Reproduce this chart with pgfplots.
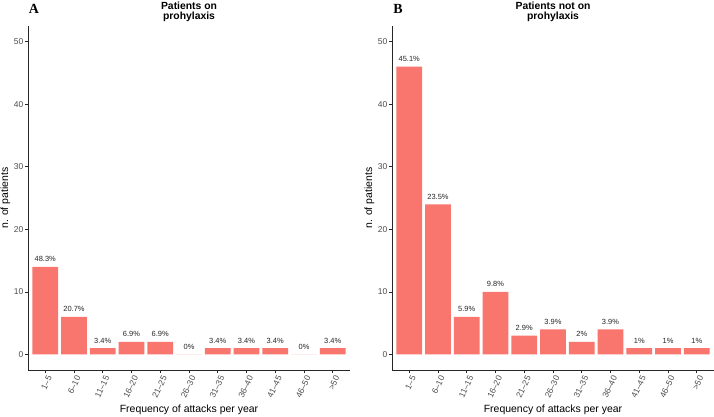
\documentclass[border=0pt]{standalone}
\usepackage{fontspec}
\setmainfont{Liberation Sans}
\newfontfamily\serifbf{Liberation Serif}
\usepackage{pgfplots}
\usepackage{pgfplotstable}
\pgfplotsset{compat=1.18}
\definecolor{barred}{HTML}{F8766D}
\definecolor{grey30}{HTML}{4D4D4D}

\pgfplotstableread{
x y p
1 14 48.3
2 6 20.7
3 1 3.4
4 2 6.9
5 2 6.9
6 0 0
7 1 3.4
8 1 3.4
9 1 3.4
10 0 0
11 1 3.4
}\dataA

\pgfplotstableread{
x y p
1 46 45.1
2 24 23.5
3 6 5.9
4 10 9.8
5 3 2.9
6 4 3.9
7 2 2
8 4 3.9
9 1 1
10 1 1
11 1 1
}\dataB

\pgfplotsset{
  /pgf/number format/assume math mode=true,
  every axis title/.style={},
  panel/.style={
    scale only axis, width=322bp, height=344bp,
    anchor=south west,
    ybar, bar width=0.9,
    xmin=0.4, xmax=11.6, ymin=-2.5, ymax=52.5,
    axis lines=left,
    axis line style={-, black!85, line width=0.6bp},
    xtick={1,...,11},
    xticklabels={1–5,6–10,11–15,16–20,21–25,26–30,31–35,36–40,41–45,46–50,>50},
    ytick={0,10,20,30,40,50},
    tick align=outside, major tick length=3bp,
    tick style={black!85, line width=0.6bp},
    ticklabel style={font=\fontsize{8.5}{9}\selectfont, text=grey30},
    yticklabel style={inner sep=1.5bp},
    xticklabel style={rotate=65, anchor=north east, inner sep=1bp, yshift=-1bp},
    xlabel={Frequency of attacks per year},
    ylabel={n. of patients},
    label style={font=\fontsize{10.5}{12}\selectfont},
    xlabel style={at={(axis description cs:0.5,-0.116)}, anchor=center},
    ylabel style={at={(axis description cs:-0.070,0.5)}, anchor=center},
    title style={at={(axis description cs:0.5,1)}, anchor=south, yshift=4bp, inner sep=0pt, align=center,
      font=\bfseries\fontsize{10.4}{10.5}\selectfont},
    clip=false,
  },
  bars/.style={fill=barred, draw=none,
    point meta=explicit,
    nodes near coords={\pgfmathprintnumber[precision=1]{\pgfplotspointmeta}\%},
    every node near coord/.append style={font=\fontsize{7.5}{8}\selectfont, text=black!85, yshift=1.5bp},
  },
}

\begin{document}
\begin{tikzpicture}
\useasboundingbox (0,0) rectangle (714bp,417bp);
\fill[white] (0,0) rectangle (714bp,417bp);
\begin{axis}[panel, at={(28bp,47bp)}, title={Patients on\\prohylaxis}]
\addplot[bars] table[x=x,y=y,meta=p]{\dataA};
\node[font=\serifbf\bfseries\fontsize{14}{14}\selectfont] at (rel axis cs:0,1) [xshift=6bp,yshift=17bp] {A};
\end{axis}
\begin{axis}[panel, at={(392bp,47bp)}, title={Patients not on\\prohylaxis}]
\addplot[bars] table[x=x,y=y,meta=p]{\dataB};
\node[font=\serifbf\bfseries\fontsize{14}{14}\selectfont] at (rel axis cs:0,1) [xshift=6bp,yshift=17bp] {B};
\end{axis}
\end{tikzpicture}
\end{document}
